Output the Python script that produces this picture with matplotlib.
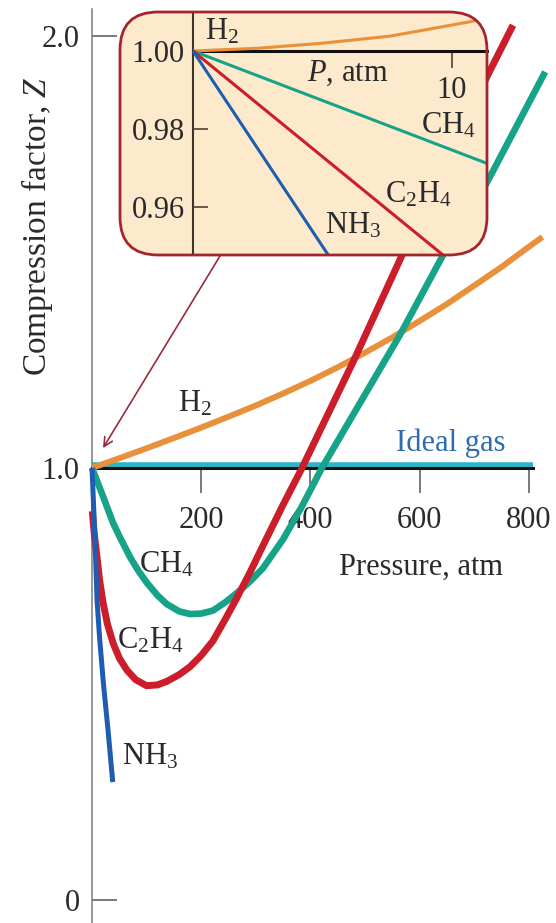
import matplotlib
matplotlib.use("Agg")
import matplotlib.pyplot as plt
from matplotlib.patches import FancyBboxPatch
from matplotlib.transforms import offset_copy

plt.rcParams['font.family'] = ['Liberation Serif', 'DejaVu Serif']
plt.rcParams['mathtext.fontset'] = 'custom'
plt.rcParams['mathtext.rm'] = 'Liberation Serif'
plt.rcParams['mathtext.it'] = 'Liberation Serif:italic'
plt.rcParams['mathtext.bf'] = 'Liberation Serif:bold'

# ---- main panel: compression factor Z vs pressure (atm) ----
ideal_p = [0, 808]
ideal_z = [1.0, 1.0]

h2_p = [0, 50, 100, 150, 200, 250, 300, 350, 400, 450, 500, 550, 600, 650,
        700, 750, 800, 825]
h2_z = [1.0, 1.0227, 1.0456, 1.0694, 1.0935, 1.1188, 1.1447, 1.1725, 1.2016,
        1.2331, 1.2669, 1.3023, 1.3403, 1.3796, 1.4222, 1.4653, 1.5120, 1.5347]

ch4_p = [0, 20, 38.5, 51, 69.6, 85, 100.7, 120, 137, 160, 179.5, 200, 221.6,
         245, 265.6, 290, 313, 350, 384, 421, 564, 643, 723, 830]
ch4_z = [1.0, 0.935, 0.873, 0.840, 0.794, 0.762, 0.734, 0.705, 0.685, 0.668,
         0.662, 0.663, 0.670, 0.690, 0.711, 0.738, 0.768, 0.835, 0.910, 1.0,
         1.308, 1.493, 1.660, 1.917]

c2h4_p = [0.5, 4, 8.6, 14, 20, 28, 38.5, 50, 64, 80, 100, 120, 137, 160,
          179.5, 200, 221.6, 245, 265.6, 290, 313, 350, 384.6, 478, 568, 723, 771]
c2h4_z = [0.90, 0.85, 0.80, 0.74, 0.69, 0.64, 0.595, 0.56, 0.532, 0.510,
          0.496, 0.498, 0.506, 0.522, 0.540, 0.566, 0.600, 0.652, 0.700,
          0.760, 0.820, 0.915, 1.0, 1.245, 1.493, 1.905, 2.025]

nh3_p = [0, 3, 5.5, 9.2, 14, 21, 29.3, 38]
nh3_z = [1.0, 0.91, 0.833, 0.694, 0.605, 0.50, 0.394, 0.273]

x_ticks = [200, 400, 600, 800]
y_ticks = [0, 1, 2]
y_ticklabels = ['0', '1.0', '2.0']

# ---- inset: low-pressure region ----
in_h2_p = [0, 2.5, 5, 7.6, 10.7, 11.5]
in_h2_z = [1.0, 1.0007, 1.002, 1.0038, 1.0075, 1.0088]
in_ch4_p = [0, 11.5]
in_ch4_z = [1.0, 0.9708]
in_c2h4_p = [0, 10]
in_c2h4_z = [1.0, 0.9458]
in_nh3_p = [0, 5.5]
in_nh3_z = [1.0, 0.9449]

in_x_ticks = [10]
in_y_ticks = [0.96, 0.98, 1.00]
in_y_ticklabels = ['0.96', '0.98', '1.00']

C_H2 = '#e8903a'
C_CH4 = '#17a387'
C_C2H4 = '#cc1d2b'
C_NH3 = '#1f5db3'
C_IDEAL = '#2fb3c9'
C_TEXT = '#2a2a2a'
C_BOX_FILL = '#fde9cc'
C_BOX_EDGE = '#a3262f'
FS = 22

fig = plt.figure(figsize=(5.56, 9.23), dpi=100)
ax = fig.add_axes([0, 0, 1, 1])
ax.set_xlim(-168.5, 849.8)
ax.set_ylim(-0.0532, 2.0833)
ax.patch.set_visible(False)

for s in ('top', 'right'):
    ax.spines[s].set_visible(False)
ax.spines['left'].set_position(('data', 0))
ax.spines['left'].set_bounds(-0.0532, 2.0625)
ax.spines['left'].set_color('#7a7a7a')
ax.spines['left'].set_linewidth(1.1)
ax.spines['bottom'].set_position(('data', 1.0))
ax.spines['bottom'].set_bounds(0, 808)
ax.spines['bottom'].set_color('#111111')
ax.spines['bottom'].set_linewidth(2.2)
ax.spines['bottom'].set_zorder(2.6)

ax.set_xticks(x_ticks)
ax.set_xticklabels([str(v) for v in x_ticks])
ax.set_yticks(y_ticks)
ax.set_yticklabels(y_ticklabels)
ax.tick_params(axis='x', direction='out', length=18, width=1.1, color='#555555',
               pad=9.5, labelsize=FS, labelcolor=C_TEXT)
ax.tick_params(axis='y', direction='in', length=18, width=1.1, color='#555555',
               pad=9, labelsize=FS, labelcolor=C_TEXT)

ax.set_ylabel('Compression factor, $Z$', fontsize=24, color=C_TEXT, va='center')
ax.yaxis.set_label_coords(0.0665, 0.755)
ax.set_xlabel('Pressure, atm', fontsize=FS, color=C_TEXT, va='center')
ax.xaxis.set_label_coords(0.757, 0.3857)

up = offset_copy(ax.transData, fig=fig, x=0, y=3.5, units='dots')
ax.plot(ideal_p, ideal_z, color=C_IDEAL, lw=4.0, solid_capstyle='butt',
        transform=up, zorder=2.4)
ax.plot(h2_p, h2_z, color=C_H2, lw=4.3, solid_capstyle='butt', zorder=3)
ax.plot(ch4_p, ch4_z, color=C_CH4, lw=4.8, solid_capstyle='butt', zorder=3.1)
ax.plot(c2h4_p, c2h4_z, color=C_C2H4, lw=5.0, solid_capstyle='butt', zorder=3.2)
ax.plot(nh3_p, nh3_z, color=C_NH3, lw=3.6, solid_capstyle='butt', zorder=3.3)

ax.text(188.6, 1.148, 'H$_2$', ha='center', va='center', fontsize=FS, color=C_TEXT)
ax.text(135.5, 0.7755, 'CH$_4$', ha='center', va='center', fontsize=FS, color=C_TEXT)
ax.text(106, 0.5995, 'C$_2$H$_4$', ha='center', va='center', fontsize=FS, color=C_TEXT)
ax.text(106, 0.331, 'NH$_3$', ha='center', va='center', fontsize=FS, color=C_TEXT)
ax.text(657.5, 1.058, 'Ideal gas', ha='center', va='center', fontsize=FS, color='#2d6cb0')

ax.annotate('', xy=(20.1, 1.046), xytext=(234.4, 1.4907),
            arrowprops=dict(arrowstyle='->', color='#9b2a3a', lw=1.2,
                            shrinkA=0, shrinkB=0, mutation_scale=16), zorder=2)

# ---- inset panel ----
ax_in = fig.add_axes([120 / 556, (923 - 255) / 923, 367 / 556, 243 / 923])
ax_in.patch.set_visible(False)

box = FancyBboxPatch((1.20, 6.68), 3.67, 2.43,
                     boxstyle='round,pad=0,rounding_size=0.38',
                     transform=fig.dpi_scale_trans, fc=C_BOX_FILL, ec='none',
                     zorder=0.5, clip_on=False)
ax_in.add_patch(box)
box_edge = FancyBboxPatch((1.20, 6.68), 3.67, 2.43,
                          boxstyle='round,pad=0,rounding_size=0.38',
                          transform=fig.dpi_scale_trans, fc='none', ec=C_BOX_EDGE,
                          lw=2.0, zorder=6, clip_on=False)
ax_in.add_patch(box_edge)

ax_in.set_xlim(-2.818, 11.351)
ax_in.set_ylim(0.94769, 1.01)

for s in ('top', 'right'):
    ax_in.spines[s].set_visible(False)
ax_in.spines['left'].set_position(('data', 0))
ax_in.spines['left'].set_bounds(0.94769, 1.01)
ax_in.spines['left'].set_color('#3d3526')
ax_in.spines['left'].set_linewidth(1.5)
ax_in.spines['bottom'].set_position(('data', 1.0))
ax_in.spines['bottom'].set_bounds(0, 11.351)
ax_in.spines['bottom'].set_color('#111111')
ax_in.spines['bottom'].set_linewidth(2.2)
ax_in.spines['bottom'].set_zorder(2.6)

ax_in.set_xticks(in_x_ticks)
ax_in.set_xticklabels([str(v) for v in in_x_ticks])
ax_in.set_yticks(in_y_ticks)
ax_in.set_yticklabels(in_y_ticklabels)
ax_in.tick_params(axis='x', direction='out', length=12, width=1.1, color='#3d3526',
                  pad=6, labelsize=FS, labelcolor=C_TEXT)
ax_in.tick_params(axis='y', direction='in', length=11, width=1.1, color='#3d3526',
                  pad=6, labelsize=FS, labelcolor=C_TEXT)

for p, z, c in ((in_h2_p, in_h2_z, C_H2), (in_ch4_p, in_ch4_z, C_CH4),
                (in_c2h4_p, in_c2h4_z, C_C2H4), (in_nh3_p, in_nh3_z, C_NH3)):
    ln, = ax_in.plot(p, z, color=c, lw=2.2, solid_capstyle='butt', zorder=3)
    ln.set_clip_path(box)

ax_in.text(1.12, 1.00487, 'H$_2$', ha='center', va='center', fontsize=FS, color=C_TEXT)
ax_in.text(5.98, 0.99436, '$P$, atm', ha='center', va='center', fontsize=FS, color=C_TEXT)
ax_in.text(9.88, 0.98077, 'CH$_4$', ha='center', va='center', fontsize=FS, color=C_TEXT)
ax_in.text(8.69, 0.96308, 'C$_2$H$_4$', ha='center', va='center', fontsize=FS, color=C_TEXT)
ax_in.text(6.18, 0.95513, 'NH$_3$', ha='center', va='center', fontsize=FS, color=C_TEXT)

fig.savefig('out.png', dpi=100)
